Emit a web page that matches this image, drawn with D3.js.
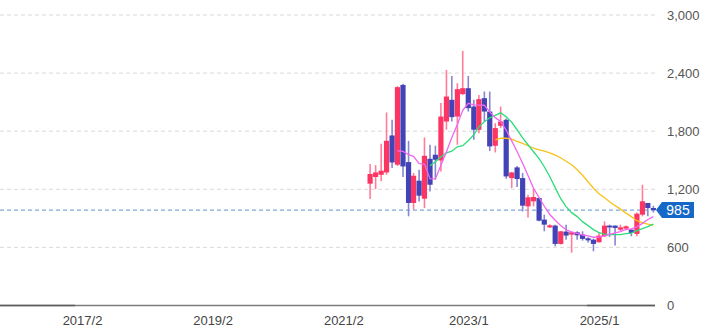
<!DOCTYPE html>
<html>
<head>
<meta charset="utf-8">
<script src="https://cdn.jsdelivr.net/npm/d3@7"></script>
<style>
  body { margin: 0; background: #fff; }
  svg { display: block; font-family: Arial, "Liberation Sans", sans-serif; }
</style>
</head>
<body>
<svg id="chart" width="709" height="335"></svg>
<script>
/* ---------------- data (monthly candles) ---------------- */
const months = ["2021/7","2021/8","2021/9","2021/10","2021/11","2021/12",
  "2022/1","2022/2","2022/3","2022/4","2022/5","2022/6","2022/7","2022/8","2022/9","2022/10","2022/11","2022/12",
  "2023/1","2023/2","2023/3","2023/4","2023/5","2023/6","2023/7","2023/8","2023/9","2023/10","2023/11","2023/12",
  "2024/1","2024/2","2024/3","2024/4","2024/5","2024/6","2024/7","2024/8","2024/9","2024/10","2024/11","2024/12",
  "2025/1","2025/2","2025/3","2025/4","2025/5","2025/6","2025/7","2025/8","2025/9","2025/10","2025/11"];
const opens  = [1258,1327,1350,1374,1756,1454, 2278,1481,1059,1289,1103,1515,1557,1498,1900,2124,1951,2183,
  2244,2055,1815,2141,2003,1650,1856,1918,1316,1426,1316,1024, 1076,1110,887,807,825,636,763,732,756,732,694,680,
  653,715,825,825,783,794,783,739,938,1059,1007];
const highs  = [1461,1450,1670,1993,1918,2265, 2289,1700,1368,1402,1735,1660,1650,2090,2433,2371,2296,2629,
  2371,2124,2175,2210,2210,1884,2055,1930,1380,1440,1368,1144, 1203,1115,938,840,835,770,835,760,766,766,705,690,
  760,869,835,825,835,825,790,960,1247,1059,1030];
const lows   = [1100,1203,1282,1350,1420,1440, 1327,921,990,1075,1007,1178,1299,1385,1815,1900,1660,2175,
  2003,1711,1780,1900,1595,1581,1832,1310,1213,1224,972,910, 1024,870,766,800,611,630,680,546,680,670,650,560,
  650,710,708,619,770,780,715,715,921,921,960];
const closes = [1358,1374,1392,1701,1477,2255, 1436,1059,1340,1134,1546,1247,1505,1951,2158,1945,2234,2244,
  2038,1815,2131,2003,1643,1832,1900,1333,1374,1306,1031,1117, 1120,876,835,828,636,766,722,756,725,688,673,636,
  722,825,807,801,807,818,749,948,1076,1007,985];

// moving-average lines as seen on the chart (null = not drawn yet)
const ma6 = [null,null,null,null,null,1598, 1591,1557,1541,1464,1461,1310,1307,1448,1588,1735,1870,2015,
  2088,2072,2070,2068,2000,1940,1900,1812,1700,1590,1470,1342, 1210,1115,1025,940,880,825,782,760,745,728,718,705,
  706,718,735,750,764,785,792,812,848,888,918];
const ma12 = [null,null,null,null,null,null, null,null,null,null,null,1443,1485,1536,1577,1593,1639,1650,
  1701,1763,1845,1897,1938,1964,1990,1948,1892,1815,1732,1660, 1588,1516,1433,1330,1217,1103,1021,959,918,866,825,784,
  753,737,732,732,732,742,747,773,794,814,840];
const ma24 = [null,null,null,null,null,null, null,null,null,null,null,null,null,null,null,null,null,null,
  null,null,null,null,null,1711,1727,1727,1717,1696,1675,1650, 1624,1608,1593,1577,1552,1526,1490,1454,1402,1345,1278,1211,
  1155,1113,1072,1031,995,954,918,876,856,840,830];

const yTicks = [0, 600, 1200, 1800, 2400, 3000];
const xTickLabels = ["2017/2", "2019/2", "2021/2", "2023/1", "2025/1"];
const lastPrice = 985;

/* ---------------- scales ---------------- */
const parseMonth = d3.timeParse("%Y/%m");
const svg = d3.select("#chart");
const plotRight = 655;

const x = d3.scaleTime()
  .domain([parseMonth("2017/2"), parseMonth("2025/1")])
  .range([82, 599]);
const y = d3.scaleLinear().domain([0, 3000]).range([305.5, 15]);

const candles = months.map((m, i) => ({
  date: parseMonth(m), open: opens[i], high: highs[i], low: lows[i], close: closes[i]
}));

/* ---------------- grid ---------------- */
svg.append("g").attr("class", "grid")
  .selectAll("line")
  .data(yTicks.filter(d => d > 0))
  .join("line")
  .attr("x1", 0).attr("x2", plotRight)
  .attr("y1", d => y(d)).attr("y2", d => y(d))
  .attr("stroke", "#dadada")
  .attr("stroke-dasharray", "4,3");

// y labels on the right
const yAxis = d3.axisRight(y).tickValues(yTicks).tickFormat(d3.format(",")).tickSize(0).tickPadding(0);
const gy = svg.append("g").attr("transform", "translate(667,0)").call(yAxis);
gy.select(".domain").remove();
gy.selectAll("text").attr("fill", "#555").style("font-size", "13px").attr("font-family", null);

// x axis
const xAxis = d3.axisBottom(x)
  .tickValues(xTickLabels.map(parseMonth))
  .tickFormat(d3.timeFormat("%Y/%-m"))
  .tickSize(0).tickPadding(10);
const gx = svg.append("g").attr("transform", "translate(0,305.5)").call(xAxis);
gx.select(".domain").remove();
gx.selectAll("text").attr("fill", "#444").style("font-size", "13px").attr("font-family", null);

// bottom line
svg.append("line").attr("x1", 0).attr("x2", plotRight).attr("y1", 305.5).attr("y2", 305.5)
  .attr("stroke", "#7c7c7c").attr("stroke-width", 1.5);
svg.append("line").attr("x1", 0).attr("x2", 75).attr("y1", 305.5).attr("y2", 305.5)
  .attr("stroke", "#5c5c5c").attr("stroke-width", 1.5);
svg.append("line").attr("x1", 587).attr("x2", plotRight).attr("y1", 305.5).attr("y2", 305.5)
  .attr("stroke", "#5c5c5c").attr("stroke-width", 1.5);

/* ---------------- current price line ---------------- */
svg.append("line")
  .attr("x1", 0).attr("x2", plotRight)
  .attr("y1", y(lastPrice)).attr("y2", y(lastPrice))
  .attr("stroke", "#7ea9d8").attr("stroke-width", 1.2)
  .attr("stroke-dasharray", "4,3");

/* ---------------- candles ---------------- */
const upCol = "#fd3563", downCol = "#4343b8";
const upWick = "#ff7d99", downWick = "#8686d4";
const g = svg.append("g").attr("class", "candles");
g.selectAll("line")
  .data(candles)
  .join("line")
  .attr("x1", d => x(d.date)).attr("x2", d => x(d.date))
  .attr("y1", d => y(d.high)).attr("y2", d => y(d.low))
  .attr("stroke", d => d.close >= d.open ? upWick : downWick)
  .attr("stroke-width", 1.6);
g.selectAll("rect")
  .data(candles)
  .join("rect")
  .attr("x", d => x(d.date) - 2.6)
  .attr("width", 5.2)
  .attr("y", d => y(Math.max(d.open, d.close)))
  .attr("height", d => Math.max(1.5, Math.abs(y(d.open) - y(d.close))))
  .attr("fill", d => d.close >= d.open ? upCol : downCol);

/* ---------------- moving averages ---------------- */
const maLine = d3.line()
  .defined(d => d.v != null)
  .x(d => x(d.date)).y(d => y(d.v));
[[ma24, "#f7c21b"], [ma12, "#2fdc7a"], [ma6, "#f266ee"]].forEach(([arr, col]) => {
  svg.append("path")
    .datum(arr.map((v, i) => ({ date: candles[i].date, v })))
    .attr("d", maLine)
    .attr("fill", "none")
    .attr("stroke", col)
    .attr("stroke-width", 1.3);
});

/* ---------------- last price tag ---------------- */
const ty = y(lastPrice);
svg.append("path")
  .attr("d", `M656,${ty} L662,${ty - 8} L694,${ty - 8} L694,${ty + 8} L662,${ty + 8} Z`)
  .attr("fill", "#1668c8");
svg.append("text")
  .attr("x", 678).attr("y", ty)
  .attr("dy", "0.36em")
  .attr("text-anchor", "middle")
  .attr("fill", "#fff")
  .style("font-size", "14px")
  .text(lastPrice);
</script>
</body>
</html>
